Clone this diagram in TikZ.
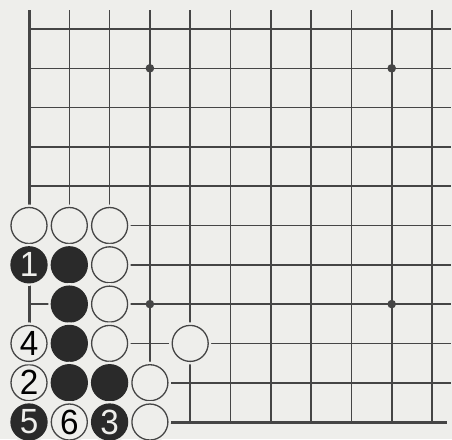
\documentclass[tikz,border=0pt]{standalone}
\usepackage{fontspec}
\usepackage{graphicx}
\setmainfont{Liberation Sans}
\definecolor{paper}{HTML}{EEEEEB}
\definecolor{ink}{HTML}{454545}
\definecolor{stoneblack}{HTML}{2A2A2A}
\newcommand{\stonenum}[1]{\scalebox{0.95}[1]{#1}}
\tikzset{
  gridline/.style={ink,line width=1.6pt},
  edgeline/.style={ink,line width=3pt},
  wstone/.style={circle,minimum size=36pt,inner sep=0pt,fill=paper,draw=ink,
    line width=1.3pt,preaction={draw=paper,line width=6pt},
    font=\fontsize{35}{35}\selectfont},
  bstone/.style={wstone,fill=stoneblack,draw=stoneblack,text=paper},
}
\begin{document}
\begin{tikzpicture}[x=40.3pt,y=-39.3pt]
  \useasboundingbox[fill=paper] (-0.7196,-0.7379) rectangle (10.496,10.433);
  % board
  \foreach \c in {1,...,10}
    \draw[gridline] (\c,-0.48) -- (\c,10);
  \foreach \r in {0,...,9}
    \draw[gridline] (0,\r) -- (10.47,\r);
  \draw[edgeline] (0,-0.48) -- (0,10);
  \draw[edgeline] (0,10) -- (10.37,10);
  \foreach \c/\r in {3/1,9/1,3/7,9/7}
    \fill[ink] (\c,\r) circle (4.3pt);
  % white stones
  \foreach \c/\r in {0/5,1/5,2/5,2/6,2/7,2/8,4/8,3/9,3/10}
    \node[wstone] (st-\c-\r) at (\c,\r) {};
  % black stones
  \foreach \c/\r in {1/6,1/7,1/8,1/9,2/9}
    \node[bstone] (st-\c-\r) at (\c,\r) {};
  % numbered moves
  \node[bstone] (st-0-6) at (0,6) {\stonenum{1}};
  \node[wstone] (st-0-9) at (0,9) {\stonenum{2}};
  \node[bstone] (st-2-10) at (2,10) {\stonenum{3}};
  \node[wstone] (st-0-8) at (0,8) {\stonenum{4}};
  \node[bstone] (st-0-10) at (0,10) {\stonenum{5}};
  \node[wstone] (st-1-10) at (1,10) {\stonenum{6}};
\end{tikzpicture}
\end{document}
